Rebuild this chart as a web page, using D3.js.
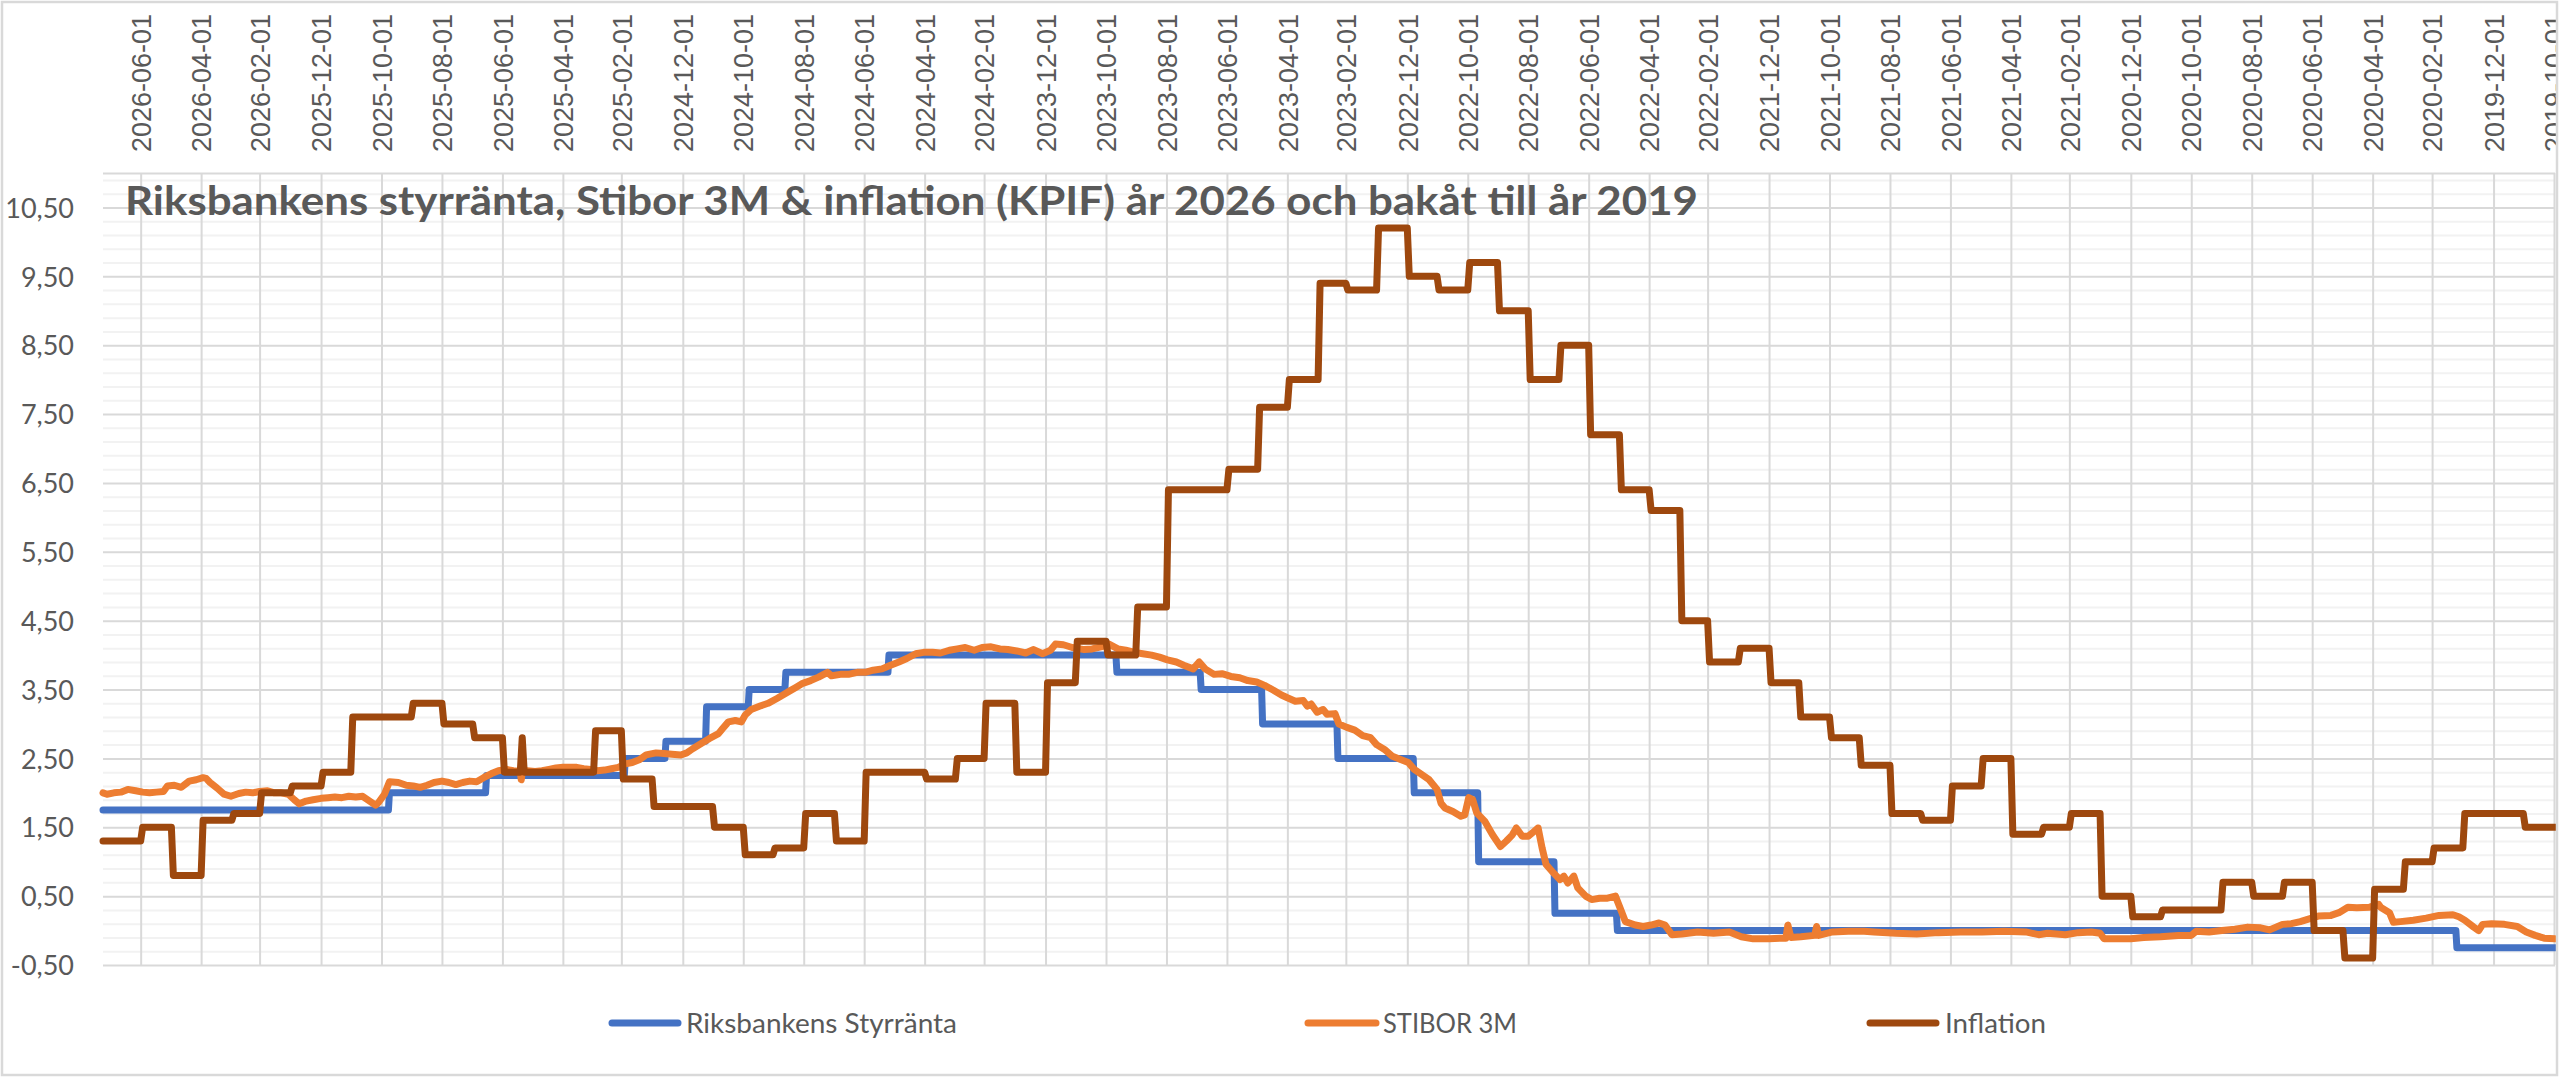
<!DOCTYPE html>
<html>
<head>
<meta charset="utf-8">
<script src="https://cdn.jsdelivr.net/npm/d3@7"></script>
<style>
html,body{margin:0;padding:0;background:#fff;}
svg{display:block;}
</style>
</head>
<body>
<svg id="chart" width="2560" height="1077"></svg>
<script>
// ---------------- DATA ----------------
const titleText = "Riksbankens styrränta, Stibor 3M & inflation (KPIF) år 2026 och bakåt till år 2019";
const seriesNames = ["Riksbankens Styrränta", "STIBOR 3M", "Inflation"];

const xTickLabels = ["2026-06-01","2026-04-01","2026-02-01","2025-12-01","2025-10-01","2025-08-01","2025-06-01","2025-04-01","2025-02-01","2024-12-01","2024-10-01","2024-08-01","2024-06-01","2024-04-01","2024-02-01","2023-12-01","2023-10-01","2023-08-01","2023-06-01","2023-04-01","2023-02-01","2022-12-01","2022-10-01","2022-08-01","2022-06-01","2022-04-01","2022-02-01","2021-12-01","2021-10-01","2021-08-01","2021-06-01","2021-04-01","2021-02-01","2020-12-01","2020-10-01","2020-08-01","2020-06-01","2020-04-01","2020-02-01","2019-12-01","2019-10-01"];
const yTickValues = [-0.5,0.5,1.5,2.5,3.5,4.5,5.5,6.5,7.5,8.5,9.5,10.5];
const yTickLabels = ["-0,50","0,50","1,50","2,50","3,50","4,50","5,50","6,50","7,50","8,50","9,50","10,50"];
const dateStart = "2019-09-30";
const dateEnd = "2026-07-09";

// Riksbankens styrränta (step changes)
const policyDates = ["2019-09-30","2020-01-08","2022-05-04","2022-07-06","2022-09-21","2022-11-25","2023-02-10","2023-04-27","2023-06-28","2023-09-21","2024-05-08","2024-08-20","2024-09-26","2024-11-08","2024-12-19","2025-01-29","2025-06-18","2025-09-24"];
const policyValues = [-0.25,0,0.25,1.0,2.0,2.5,3.0,3.5,3.75,4.0,3.75,3.5,3.25,2.75,2.5,2.25,2.0,1.75];

// STIBOR 3M
const stiborDates = ["2019-09-30","2019-10-11","2019-10-20","2019-10-29","2019-11-07","2019-11-20","2019-12-03","2019-12-12","2019-12-16","2019-12-21","2019-12-30","2020-01-05","2020-01-11","2020-01-25","2020-02-07","2020-02-20","2020-03-04","2020-03-11","2020-03-15","2020-03-24","2020-03-26","2020-04-04","2020-04-17","2020-04-26","2020-05-05","2020-05-13","2020-05-26","2020-06-04","2020-06-13","2020-06-22","2020-07-01","2020-07-14","2020-07-23","2020-08-05","2020-08-18","2020-08-31","2020-09-13","2020-09-26","2020-10-01","2020-10-14","2020-11-01","2020-11-18","2020-12-01","2020-12-14","2020-12-28","2021-01-01","2021-01-10","2021-01-23","2021-02-05","2021-02-23","2021-03-04","2021-03-17","2021-04-08","2021-04-30","2021-05-22","2021-06-13","2021-07-05","2021-07-26","2021-08-17","2021-08-27","2021-09-12","2021-09-28","2021-10-12","2021-10-14","2021-10-16","2021-10-30","2021-11-09","2021-11-12","2021-11-14","2021-11-19","2021-12-01","2021-12-17","2021-12-29","2022-01-10","2022-01-26","2022-02-11","2022-02-27","2022-03-09","2022-03-16","2022-03-22","2022-03-30","2022-04-07","2022-04-15","2022-04-25","2022-04-29","2022-05-05","2022-05-13","2022-05-21","2022-05-29","2022-06-04","2022-06-12","2022-06-16","2022-06-22","2022-06-26","2022-06-30","2022-07-08","2022-07-14","2022-07-18","2022-07-22","2022-07-26","2022-08-01","2022-08-07","2022-08-13","2022-08-17","2022-08-23","2022-08-29","2022-09-06","2022-09-14","2022-09-22","2022-09-26","2022-09-30","2022-10-04","2022-10-08","2022-10-16","2022-10-24","2022-10-28","2022-11-01","2022-11-09","2022-11-17","2022-11-24","2022-11-30","2022-12-09","2022-12-16","2022-12-24","2023-01-01","2023-01-07","2023-01-15","2023-01-23","2023-01-31","2023-02-08","2023-02-12","2023-02-20","2023-02-24","2023-03-02","2023-03-08","2023-03-12","2023-03-16","2023-03-24","2023-04-01","2023-04-07","2023-04-15","2023-04-24","2023-05-02","2023-05-11","2023-05-19","2023-05-28","2023-06-06","2023-06-14","2023-06-23","2023-06-29","2023-07-05","2023-07-14","2023-07-22","2023-07-31","2023-08-08","2023-08-16","2023-08-25","2023-09-02","2023-09-11","2023-09-19","2023-09-28","2023-10-06","2023-10-15","2023-10-23","2023-11-04","2023-11-13","2023-11-21","2023-11-26","2023-12-04","2023-12-13","2023-12-21","2023-12-30","2024-01-08","2024-01-16","2024-01-25","2024-02-03","2024-02-11","2024-02-20","2024-02-28","2024-03-07","2024-03-16","2024-03-24","2024-04-02","2024-04-10","2024-04-19","2024-04-27","2024-05-06","2024-05-14","2024-05-23","2024-05-31","2024-06-08","2024-06-17","2024-06-25","2024-07-04","2024-07-08","2024-07-17","2024-07-25","2024-08-02","2024-08-09","2024-08-15","2024-08-22","2024-08-28","2024-09-06","2024-09-14","2024-09-23","2024-09-29","2024-10-03","2024-10-09","2024-10-16","2024-10-22","2024-10-26","2024-11-04","2024-11-12","2024-11-21","2024-11-27","2024-12-03","2024-12-12","2024-12-20","2024-12-28","2025-01-07","2025-01-14","2025-01-21","2025-01-28","2025-02-04","2025-02-11","2025-02-18","2025-02-25","2025-03-04","2025-03-11","2025-03-18","2025-03-25","2025-04-01","2025-04-08","2025-04-15","2025-04-22","2025-04-29","2025-05-07","2025-05-12","2025-05-13","2025-05-14","2025-05-21","2025-05-28","2025-06-05","2025-06-12","2025-06-20","2025-06-27","2025-07-04","2025-07-11","2025-07-18","2025-07-25","2025-08-01","2025-08-09","2025-08-16","2025-08-23","2025-08-30","2025-09-06","2025-09-14","2025-09-23","2025-09-28","2025-10-04","2025-10-07","2025-10-13","2025-10-20","2025-10-27","2025-11-03","2025-11-10","2025-11-17","2025-11-24","2025-12-01","2025-12-09","2025-12-16","2025-12-23","2025-12-28","2026-01-03","2026-01-10","2026-01-17","2026-01-24","2026-02-01","2026-02-08","2026-02-15","2026-02-22","2026-03-02","2026-03-09","2026-03-16","2026-03-23","2026-03-27","2026-03-30","2026-04-06","2026-04-13","2026-04-21","2026-04-28","2026-05-05","2026-05-09","2026-05-16","2026-05-23","2026-05-30","2026-06-06","2026-06-14","2026-06-21","2026-06-28","2026-07-05","2026-07-09"];
const stiborValues = [-0.12,-0.11,-0.07,-0.02,0.06,0.09,0.10,0.09,0.00,0.05,0.15,0.20,0.23,0.22,0.18,0.15,0.13,0.12,0.26,0.34,0.38,0.34,0.33,0.34,0.26,0.22,0.21,0.17,0.13,0.10,0.09,0.01,0.04,0.05,0.02,0.00,-0.02,-0.01,-0.07,-0.07,-0.09,-0.10,-0.12,-0.12,-0.12,-0.04,-0.02,-0.03,-0.06,-0.04,-0.06,-0.02,-0.01,-0.02,-0.02,-0.03,-0.05,-0.04,-0.02,-0.01,-0.01,-0.02,-0.07,0.06,-0.07,-0.09,-0.10,0.08,-0.11,-0.11,-0.12,-0.12,-0.09,-0.02,-0.04,-0.02,-0.05,-0.06,0.08,0.11,0.08,0.06,0.08,0.13,0.28,0.50,0.47,0.47,0.45,0.50,0.62,0.79,0.69,0.79,0.74,0.86,0.96,1.20,1.49,1.44,1.37,1.37,1.49,1.39,1.30,1.22,1.39,1.59,1.71,1.90,1.93,1.68,1.66,1.73,1.78,1.85,2.05,2.19,2.27,2.34,2.44,2.49,2.53,2.63,2.70,2.80,2.83,2.91,2.95,3.00,3.15,3.14,3.21,3.17,3.29,3.26,3.34,3.33,3.38,3.42,3.49,3.56,3.61,3.63,3.67,3.69,3.73,3.72,3.80,3.90,3.80,3.85,3.90,3.93,3.97,4.00,4.02,4.04,4.07,4.09,4.16,4.12,4.09,4.08,4.11,4.15,4.16,4.07,4.02,4.08,4.03,4.06,4.08,4.09,4.12,4.11,4.07,4.11,4.09,4.07,4.03,4.04,4.04,4.02,3.95,3.90,3.85,3.80,3.78,3.75,3.75,3.72,3.72,3.70,3.75,3.68,3.63,3.59,3.53,3.48,3.42,3.37,3.30,3.26,3.21,3.13,3.03,3.05,3.03,2.93,2.86,2.79,2.72,2.64,2.58,2.55,2.56,2.57,2.58,2.55,2.48,2.44,2.42,2.37,2.35,2.33,2.32,2.34,2.35,2.37,2.37,2.37,2.36,2.34,2.32,2.31,2.32,2.31,2.19,2.31,2.32,2.34,2.32,2.28,2.22,2.16,2.17,2.15,2.12,2.15,2.17,2.15,2.11,2.08,2.10,2.11,2.15,2.16,1.98,1.86,1.82,1.88,1.95,1.94,1.95,1.93,1.94,1.93,1.92,1.90,1.88,1.84,1.90,1.98,2.00,2.00,2.03,2.02,2.00,2.01,1.99,1.95,1.98,2.07,2.15,2.21,2.22,2.19,2.17,2.08,2.11,2.10,2.02,2.01,2.00,2.01,2.03,2.05,2.01,2.00,1.98,2.00];

// Inflation KPIF (monthly steps, one short spike in May 2025)
const inflationDates = ["2019-09-30","2019-11-01","2019-12-01","2020-01-01","2020-02-01","2020-03-01","2020-04-01","2020-05-01","2020-06-01","2020-07-01","2020-08-01","2020-09-01","2020-10-01","2020-11-01","2020-12-01","2021-01-01","2021-02-01","2021-03-01","2021-04-01","2021-05-01","2021-06-01","2021-07-01","2021-08-01","2021-09-01","2021-10-01","2021-11-01","2021-12-01","2022-01-01","2022-02-01","2022-03-01","2022-04-01","2022-05-01","2022-06-01","2022-07-01","2022-08-01","2022-09-01","2022-10-01","2022-11-01","2022-12-01","2023-01-01","2023-02-01","2023-03-01","2023-04-01","2023-05-01","2023-06-01","2023-07-01","2023-08-01","2023-09-01","2023-10-01","2023-11-01","2023-12-01","2024-01-01","2024-02-01","2024-03-01","2024-04-01","2024-05-01","2024-06-01","2024-07-01","2024-08-01","2024-09-01","2024-10-01","2024-11-01","2024-12-01","2025-01-01","2025-02-01","2025-03-01","2025-04-01","2025-05-01","2025-05-12","2025-05-14","2025-06-01","2025-07-01","2025-08-01","2025-09-01","2025-10-01","2025-11-01","2025-12-01","2026-01-01","2026-02-01","2026-03-01","2026-04-01","2026-05-01","2026-06-01"];
const inflationValues = [1.5,1.7,1.7,1.2,1.0,0.6,-0.4,0.0,0.7,0.5,0.7,0.3,0.3,0.2,0.5,1.7,1.5,1.4,2.5,2.1,1.6,1.7,2.4,2.8,3.1,3.6,4.1,3.9,4.5,6.1,6.4,7.2,8.5,8.0,9.0,9.7,9.3,9.5,10.2,9.3,9.4,8.0,7.6,6.7,6.4,6.4,4.7,4.0,4.2,3.6,2.3,3.3,2.5,2.2,2.3,2.3,1.3,1.7,1.2,1.1,1.5,1.8,1.8,2.2,2.9,2.3,2.3,2.3,2.8,2.3,2.8,3.0,3.3,3.1,3.1,2.3,2.1,2.0,1.7,1.6,0.8,1.5,1.3];

// ---------------- LAYOUT ----------------
const W = 2560, H = 1077;
const plot = {left: 103, right: 2555, top: 173, bottom: 965};
const colors = {blue: "#4472C4", orange: "#ED7D31", brown: "#9E480E", text: "#595959", major: "#D9D9D9", minor: "#F2F2F2"};
const lineW = 7;

const parse = d3.utcParse("%Y-%m-%d");
const svg = d3.select("#chart");

svg.append("defs").append("clipPath").attr("id", "clipAll")
  .append("rect").attr("x", 0).attr("y", 0).attr("width", 2556).attr("height", H);

const root = svg.append("g").attr("clip-path", "url(#clipAll)");

const x = d3.scaleUtc().domain([parse(dateEnd), parse(dateStart)]).range([plot.left, plot.right]);
const y = d3.scaleLinear().domain([-0.5, 11]).range([plot.bottom, plot.top]);

// minor horizontal gridlines (every 0.2)
const minorTicks = d3.range(-0.3, 11.0, 0.2).map(v => Math.round(v * 10) / 10)
  .filter(v => Math.abs(((v + 0.5) % 1)) > 0.05 && Math.abs(((v + 0.5) % 1) - 1) > 0.05);
const gMinor = root.append("g").attr("transform", `translate(${plot.left},0)`)
  .call(d3.axisLeft(y).tickValues(minorTicks).tickSize(-(plot.right - plot.left)).tickFormat(""));
gMinor.select(".domain").remove();
gMinor.selectAll("line").attr("stroke", colors.minor).attr("stroke-width", 2);

// major horizontal gridlines
const gMajor = root.append("g").attr("transform", `translate(${plot.left},0)`)
  .call(d3.axisLeft(y).tickValues(yTickValues.concat([11])).tickSize(-(plot.right - plot.left)).tickFormat(""));
gMajor.select(".domain").remove();
gMajor.selectAll("line").attr("stroke", colors.major).attr("stroke-width", 2);

// vertical gridlines
const xTickDates = xTickLabels.map(parse);
const gVert = root.append("g").attr("transform", `translate(0,${plot.top})`)
  .call(d3.axisTop(x).tickValues(xTickDates).tickSize(-(plot.bottom - plot.top)).tickFormat(""));
gVert.select(".domain").remove();
gVert.selectAll("line").attr("stroke", colors.major).attr("stroke-width", 2);

// x labels (top, rotated)
const fmt = d3.utcFormat("%Y-%m-%d");
const gXL = root.append("g").attr("transform", "translate(0,152)")
  .call(d3.axisTop(x).tickValues(xTickDates).tickSize(0).tickPadding(0).tickFormat(fmt));
gXL.select(".domain").remove();
gXL.selectAll("text")
  .attr("transform", "rotate(-90)")
  .attr("x", 0).attr("y", 0).attr("dy", "0.36em")
  .attr("text-anchor", "start")
  .attr("fill", colors.text)
  .style("font-family", "'Liberation Sans', Arial, sans-serif")
  .style("font-size", "27px");

// y labels
const gYL = root.append("g").attr("transform", "translate(74,0)")
  .call(d3.axisLeft(y).tickValues(yTickValues).tickSize(0).tickPadding(0)
    .tickFormat((d, i) => yTickLabels[i]));
gYL.select(".domain").remove();
gYL.selectAll("text")
  .attr("fill", colors.text)
  .attr("dy", "0.36em")
  .style("font-family", "Lato, 'Open Sans', sans-serif")
  .style("font-size", "27px");

// title
root.append("text")
  .attr("x", 125).attr("y", 215)
  .attr("fill", colors.text)
  .attr("textLength", 1573).attr("lengthAdjust", "spacingAndGlyphs")
  .style("font-family", "Lato, 'Open Sans', sans-serif")
  .style("font-weight", "700")
  .style("font-size", "41px")
  .text(titleText);

// step series builder
const DAY = 864e5;
function stepPoints(dates, values, endDate, gapDays) {
  const pts = [];
  for (let i = 0; i < dates.length; i++) {
    const d0 = parse(dates[i]);
    const d1 = i < dates.length - 1 ? new Date(+parse(dates[i + 1]) - gapDays * DAY) : parse(endDate);
    pts.push([d0, values[i]], [d1, values[i]]);
  }
  return pts;
}

const line = d3.line().x(d => x(d[0])).y(d => y(d[1]));
const gLines = root.append("g");

gLines.append("path")
  .datum(stepPoints(policyDates, policyValues, dateEnd, 1))
  .attr("d", line).attr("fill", "none").attr("stroke", colors.blue)
  .attr("stroke-width", lineW).attr("stroke-linejoin", "round").attr("stroke-linecap", "round");

gLines.append("path")
  .datum(stiborDates.map((d, i) => [parse(d), stiborValues[i]]))
  .attr("d", line).attr("fill", "none").attr("stroke", colors.orange)
  .attr("stroke-width", lineW).attr("stroke-linejoin", "round").attr("stroke-linecap", "round");

gLines.append("path")
  .datum(stepPoints(inflationDates, inflationValues, dateEnd, 2))
  .attr("d", line).attr("fill", "none").attr("stroke", colors.brown)
  .attr("stroke-width", lineW).attr("stroke-linejoin", "round").attr("stroke-linecap", "round");

// legend
const legendY = 1023;
const legendLayout = [
  {x0: 612, x1: 678, tx: 686, tw: 271, color: colors.blue},
  {x0: 1308, x1: 1376, tx: 1383, tw: 134, color: colors.orange},
  {x0: 1870, x1: 1936, tx: 1945, tw: 101, color: colors.brown}
];
const gLeg = root.append("g");
seriesNames.forEach((name, i) => {
  const L = legendLayout[i];
  gLeg.append("line").attr("x1", L.x0).attr("x2", L.x1).attr("y1", legendY).attr("y2", legendY)
    .attr("stroke", L.color).attr("stroke-width", lineW).attr("stroke-linecap", "round");
  gLeg.append("text").attr("x", L.tx).attr("y", legendY).attr("dy", "0.36em")
    .attr("fill", colors.text)
    .attr("textLength", L.tw).attr("lengthAdjust", "spacingAndGlyphs")
    .style("font-family", "Lato, 'Open Sans', sans-serif")
    .style("font-size", "27px")
    .text(name);
});

// chart border
svg.append("rect").attr("x", 2).attr("y", 2).attr("width", 2555).attr("height", 1073)
  .attr("fill", "none").attr("stroke", colors.major).attr("stroke-width", 2.5);
</script>
</body>
</html>
